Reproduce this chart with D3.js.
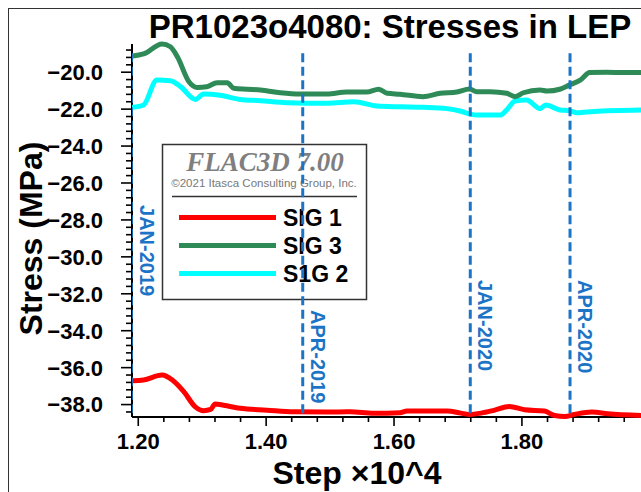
<!DOCTYPE html>
<html>
<head>
<meta charset="utf-8">
<script src="https://cdn.jsdelivr.net/npm/d3@7"></script>
<style>
  html, body { margin: 0; padding: 0; background: #fff; }
  svg { display: block; }
</style>
</head>
<body>
<script>
// ---- Data ----------------------------------------------------------------
const chartTitle = "PR1023o4080: Stresses in LEP";
const xTitle = "Step \u00d710^4";
const yTitle = "Stress (MPa)";

const seriesNames = ["SIG 1", "SIG 3", "S1G 2"];
const seriesColors = ["#ff0000", "#2e8b57", "#00ffff"];

// SIG 1 (step x10^4, stress MPa)
const stepsSig1 = [1.192, 1.209, 1.238, 1.254, 1.272, 1.290, 1.303, 1.314, 1.321, 1.334, 1.360, 1.402, 1.444, 1.496, 1.532, 1.569, 1.610, 1.621, 1.684, 1.705, 1.718, 1.737, 1.757, 1.781, 1.805, 1.836, 1.852, 1.868, 1.883, 1.910, 1.935, 1.987];
const valuesSig1 = [-36.74, -36.70, -36.43, -36.70, -37.33, -38.15, -38.36, -38.29, -38.00, -38.06, -38.23, -38.33, -38.42, -38.43, -38.42, -38.50, -38.47, -38.38, -38.38, -38.49, -38.56, -38.49, -38.34, -38.13, -38.31, -38.38, -38.62, -38.67, -38.56, -38.43, -38.53, -38.62];

// SIG 3
const stepsSig3 = [1.192, 1.209, 1.238, 1.251, 1.262, 1.280, 1.293, 1.308, 1.324, 1.340, 1.350, 1.371, 1.392, 1.423, 1.454, 1.496, 1.527, 1.558, 1.577, 1.590, 1.610, 1.646, 1.673, 1.699, 1.719, 1.730, 1.751, 1.777, 1.790, 1.803, 1.829, 1.840, 1.860, 1.875, 1.892, 1.907, 1.933, 1.959, 1.987];
const valuesSig3 = [-19.15, -19.04, -18.50, -18.65, -19.19, -20.54, -20.85, -20.81, -20.60, -20.60, -20.90, -20.95, -20.99, -21.14, -21.21, -21.21, -21.10, -21.10, -20.95, -21.17, -21.22, -21.35, -21.17, -21.10, -20.94, -21.08, -21.08, -21.17, -21.35, -21.14, -20.99, -21.05, -20.95, -20.72, -20.45, -20.05, -20.03, -20.05, -20.05];

// S1G 2
const stepsSig2 = [1.192, 1.209, 1.230, 1.251, 1.267, 1.290, 1.303, 1.329, 1.360, 1.392, 1.433, 1.496, 1.538, 1.574, 1.610, 1.647, 1.683, 1.704, 1.719, 1.730, 1.767, 1.777, 1.790, 1.808, 1.829, 1.838, 1.860, 1.875, 1.887, 1.913, 1.987];
const valuesSig2 = [-21.93, -21.80, -20.45, -20.49, -20.81, -21.50, -21.21, -21.28, -21.50, -21.57, -21.68, -21.71, -21.63, -21.86, -21.90, -21.93, -22.00, -22.13, -22.29, -22.35, -22.35, -22.07, -21.59, -21.53, -22.00, -21.80, -22.07, -22.11, -22.22, -22.15, -22.07];

// Calendar markers
const eventLabels = ["JAN-2019", "APR-2019", "JAN-2020", "APR-2020"];
const eventSteps = [1.190, 1.458, 1.720, 1.876];
const eventLabelStress = [-27.22, -32.91, -31.28, -31.28];
const eventLineTop = -19.0;

const xDomain = [1.191, 1.987];
const yDomain = [-38.7, -18.5];
const xMajorTicks = [1.20, 1.40, 1.60, 1.80];
const yMajorTicks = [-38, -36, -34, -32, -30, -28, -26, -24, -22, -20];

// ---- Layout --------------------------------------------------------------
const W = 641, H = 492;
const plot = { left: 132, right: 641, top: 44, bottom: 417 };
const FONT = "'Liberation Sans', Arial, Helvetica, sans-serif";
const BLUE = "#1b74c6";

const svg = d3.select("body").append("svg")
  .attr("width", W).attr("height", H)
  .style("font-family", FONT);

// outer frame
svg.append("rect")
  .attr("x", 8.5).attr("y", 8.5)
  .attr("width", W + 20).attr("height", H + 20)
  .attr("fill", "none").attr("stroke", "#333").attr("stroke-width", 1);

const x = d3.scaleLinear().domain(xDomain).range([plot.left, plot.right]);
const y = d3.scaleLinear().domain(yDomain).range([plot.bottom, plot.top]);

svg.append("defs").append("clipPath").attr("id", "plotClip")
  .append("rect")
  .attr("x", plot.left).attr("y", plot.top - 10)
  .attr("width", plot.right - plot.left).attr("height", plot.bottom - plot.top + 12);

// title
svg.append("text")
  .attr("x", 390).attr("y", 38)
  .attr("text-anchor", "middle")
  .attr("font-size", 33).attr("font-weight", "bold")
  .text(chartTitle);

// ---- Axes ----------------------------------------------------------------
const yMinor = d3.range(-38.4, -18.4, 0.4).map(v => +v.toFixed(1))
  .filter(v => Math.abs(v / 2 - Math.round(v / 2)) > 1e-6);
const xMinor = d3.range(1.20, 1.99, 0.04).map(v => +v.toFixed(2))
  .filter(v => !xMajorTicks.some(t => Math.abs(t - v) < 1e-6));

const yAxis = svg.append("g").attr("transform", `translate(${plot.left},0)`)
  .call(d3.axisLeft(y).tickValues(yMajorTicks).tickFormat(d3.format(".1f"))
    .tickSize(11).tickPadding(18));
const yAxisMinor = svg.append("g").attr("transform", `translate(${plot.left},0)`)
  .call(d3.axisLeft(y).tickValues(yMinor).tickFormat("").tickSize(6));

const xAxis = svg.append("g").attr("transform", `translate(0,${plot.bottom})`)
  .call(d3.axisBottom(x).tickValues(xMajorTicks).tickFormat(d3.format(".2f"))
    .tickSize(9).tickPadding(7));
const xAxisMinor = svg.append("g").attr("transform", `translate(0,${plot.bottom})`)
  .call(d3.axisBottom(x).tickValues(xMinor).tickFormat("").tickSize(5));

[yAxis, yAxisMinor, xAxis, xAxisMinor].forEach(g => {
  g.select(".domain").attr("stroke", "#000").attr("stroke-width", 2);
  g.selectAll(".tick line").attr("stroke", "#000").attr("stroke-width", 1.6);
  g.selectAll("text").attr("fill", "#000").attr("font-family", FONT)
    .attr("font-weight", "bold").attr("font-size", 22);
});
yAxis.selectAll("text").attr("dy", "0.36em");
// plain axis lines, no end caps
[yAxis, yAxisMinor].forEach(g => g.select(".domain")
  .attr("d", `M0,${plot.top}V${plot.bottom}`));
[xAxis, xAxisMinor].forEach(g => g.select(".domain")
  .attr("d", `M${plot.left},0H${plot.right}`));

// axis titles
svg.append("text")
  .attr("transform", `translate(42,${(plot.top + plot.bottom) / 2 + 8}) rotate(-90)`)
  .attr("text-anchor", "middle")
  .attr("font-size", 32).attr("font-weight", "bold")
  .text(yTitle);

svg.append("text")
  .attr("x", 357).attr("y", 484)
  .attr("text-anchor", "middle")
  .attr("font-size", 32).attr("font-weight", "bold")
  .text(xTitle);

// ---- Series --------------------------------------------------------------
const line = d3.line().x(d => x(d[0])).y(d => y(d[1])).curve(d3.curveMonotoneX);
const series = [
  d3.zip(stepsSig1, valuesSig1),
  d3.zip(stepsSig3, valuesSig3),
  d3.zip(stepsSig2, valuesSig2)
];
const gLines = svg.append("g").attr("clip-path", "url(#plotClip)");
// draw in order: cyan, green, red
[2, 1, 0].forEach(i => {
  gLines.append("path")
    .datum(series[i])
    .attr("d", line)
    .attr("fill", "none")
    .attr("stroke", seriesColors[i])
    .attr("stroke-width", 5)
    .attr("stroke-linejoin", "round")
    .attr("stroke-linecap", "round");
});

// ---- Legend --------------------------------------------------------------
const lg = svg.append("g").attr("transform", "translate(162,144)");
lg.append("rect")
  .attr("x", 0.5).attr("y", 0.5).attr("width", 204).attr("height", 155)
  .attr("fill", "#fff").attr("stroke", "#333").attr("stroke-width", 1.5);
lg.append("text")
  .attr("x", 103).attr("y", 27)
  .attr("text-anchor", "middle")
  .attr("font-family", "'Liberation Serif', 'Times New Roman', serif")
  .attr("font-style", "italic").attr("font-weight", "bold")
  .attr("font-size", 27).attr("fill", "#7f7f7f")
  .text("FLAC3D 7.00");
lg.append("text")
  .attr("x", 102).attr("y", 43)
  .attr("text-anchor", "middle")
  .attr("font-size", 11.5).attr("fill", "#777")
  .text("\u00a92021 Itasca Consulting Group, Inc.");
lg.append("line")
  .attr("x1", 10).attr("x2", 195).attr("y1", 52.5).attr("y2", 52.5)
  .attr("stroke", "#333").attr("stroke-width", 1.5);
seriesNames.forEach((name, i) => {
  const cy = 73.5 + i * 28;
  lg.append("line")
    .attr("x1", 17).attr("x2", 114).attr("y1", cy).attr("y2", cy)
    .attr("stroke", seriesColors[i]).attr("stroke-width", 5);
  lg.append("text")
    .attr("x", 121).attr("y", cy + 8)
    .attr("font-size", 23).attr("font-weight", "bold").attr("fill", "#000")
    .text(name);
});

// ---- Calendar markers ----------------------------------------------------
const gEv = svg.append("g").attr("clip-path", "url(#plotClip)");
eventSteps.forEach((s, i) => {
  gEv.append("line")
    .attr("x1", x(s)).attr("x2", x(s))
    .attr("y1", y(eventLineTop)).attr("y2", plot.bottom)
    .attr("stroke", BLUE).attr("stroke-width", 3)
    .attr("stroke-dasharray", "9,4.5");
});
eventLabels.forEach((lab, i) => {
  const px = Math.max(x(eventSteps[i]), plot.left) + 8;
  svg.append("text")
    .attr("transform", `translate(${px},${y(eventLabelStress[i])}) rotate(90)`)
    .attr("font-size", 20).attr("font-weight", "bold").attr("fill", BLUE)
    .text(lab);
});
</script>
</body>
</html>
